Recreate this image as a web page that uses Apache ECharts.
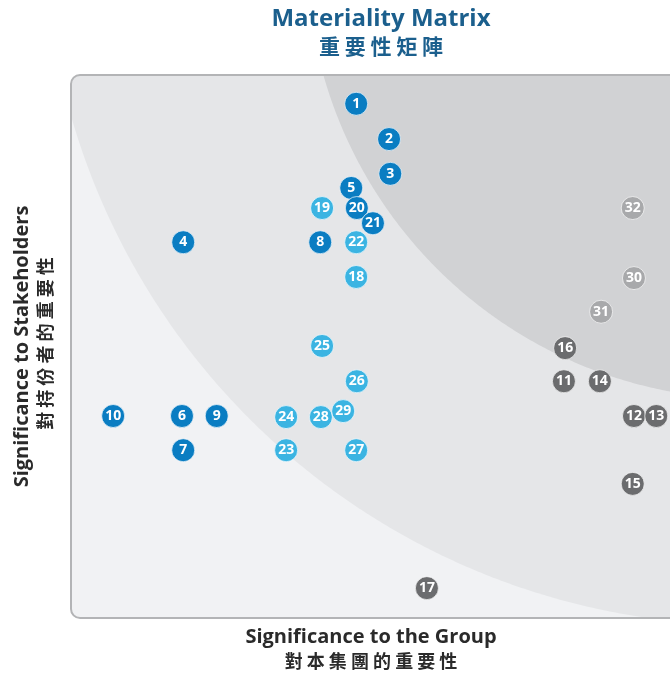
<!DOCTYPE html>
<html><head><meta charset="utf-8">
<script src="https://cdn.jsdelivr.net/npm/echarts@6/dist/echarts.min.js"></script>
<style>html,body{margin:0;padding:0;background:#fff}#c{width:670px;height:674px}</style>
</head><body><div id="c"></div>
<script>
// ---- data ----
const itemIds = [1,2,3,4,5,6,7,8,9,10,11,12,13,14,15,16,17,18,19,20,21,22,23,24,25,26,27,28,29,30,31,32];
const groupSignificance = [46.0,51.3,51.5,18.1,45.2,17.9,18.1,40.2,23.5,6.8,79.5,90.8,94.4,85.3,90.6,79.7,57.4,46.0,40.5,46.1,48.7,46.0,34.7,34.7,40.5,46.1,46.0,40.3,43.9,90.8,85.5,90.6];
const stakeholderSignificance = [94.7,88.2,81.8,69.2,79.2,37.2,30.9,69.2,37.2,37.2,43.6,37.2,37.2,43.6,24.7,49.7,5.5,62.8,75.5,75.5,72.7,69.2,30.9,37.0,50.1,43.6,30.9,37.0,38.1,62.6,56.4,75.5];
const itemCategory = [0,0,0,0,0,0,0,0,0,0,2,2,2,2,2,2,2,1,1,0,0,1,1,1,1,1,1,1,1,3,3,3];
const categoryNames = ['Group A','Group B','Group C','Group D'];
const categoryColors = ['#0a7dc2','#3bb4e2','#6b6c6e','#a8a9ab'];
const titleLines = ['Materiality Matrix','重 要 性 矩 陣'];
const xTitleLines = ['Significance to the Group','對 本 集 團 的 重 要 性'];
const yTitleLines = ['Significance to Stakeholders','對 持 份 者 的 重 要 性'];
// decorative zone circles (centre in data units, radius in x-units)
const zoneCircles = [
  {cx:109.0, cy:128.2, r:113.4, color:'#e5e6e8'},
  {cx:109.8, cy:122.3, r:71.8,  color:'#d1d2d4'}
];

const XMIN=0, XMAX=100, YMIN=0, YMAX=100;
const chart = echarts.init(document.getElementById('c'));

const series = categoryNames.map((name,ci)=>({
  type:'scatter', name, symbol:'circle', symbolSize:23, z:10,
  itemStyle:{color:categoryColors[ci], borderColor:'rgba(255,255,255,0.85)', borderWidth:0.8, opacity:1},
  label:{show:true, position:'inside', formatter:p=>String(p.value[2]), color:'#fff',
         fontFamily:'Open Sans', fontWeight:700, fontSize:14},
  emphasis:{disabled:true}, silent:true,
  data: itemIds.map((id,i)=> itemCategory[i]===ci ? [groupSignificance[i], stakeholderSignificance[i], id] : null).filter(Boolean)
}));

chart.setOption({
  animation:false,
  grid:{left:71, top:75, width:620, height:543, outerBoundsMode:'none', containLabel:false},
  xAxis:{type:'value', min:XMIN, max:XMAX, show:false},
  yAxis:{type:'value', min:YMIN, max:YMAX, show:false},
  series
});

const p0 = chart.convertToPixel({gridIndex:0},[XMIN,YMAX]);
const p1 = chart.convertToPixel({gridIndex:0},[XMAX,YMIN]);
const rect = {x0:p0[0], y0:p0[1], x1:p1[0]+40, y1:p1[1]};
const CR = 9;
const pxPerX = (p1[0]-p0[0])/(XMAX-XMIN);

function clampRounded(x,y){
  x = Math.min(Math.max(x,rect.x0),rect.x1);
  y = Math.min(Math.max(y,rect.y0),rect.y1);
  const corners = [[rect.x0+CR, rect.y0+CR, x<rect.x0+CR && y<rect.y0+CR],
                   [rect.x0+CR, rect.y1-CR, x<rect.x0+CR && y>rect.y1-CR]];
  for (const [ccx,ccy,inZone] of corners){
    if (inZone){
      const dx=x-ccx, dy=y-ccy, d=Math.hypot(dx,dy);
      if (d>CR){ x=ccx+dx/d*CR; y=ccy+dy/d*CR; }
    }
  }
  return [x,y];
}
function zonePolygon(c){
  const ctr = chart.convertToPixel({gridIndex:0},[c.cx,c.cy]);
  const r = c.r*pxPerX;
  const pts=[];
  for(let k=0;k<1440;k++){
    const a=k/1440*2*Math.PI;
    pts.push(clampRounded(ctr[0]+r*Math.cos(a), ctr[1]+r*Math.sin(a)));
  }
  return pts;
}

const W = rect.x1-rect.x0, H = rect.y1-rect.y0;
const cx = (p0[0]+p1[0])/2, cyMid=(p0[1]+p1[1])/2;
const latin = 'Open Sans', cjk = '"Noto Sans CJK TC"';
const T = (x,y,text,font,fill,rot)=>({type:'text', x, y, rotation:rot||0, silent:true,
  style:{text, font, fill, align:'center', verticalAlign:'middle', textAlign:'center', textVerticalAlign:'middle'}});
const graphics = [
  {type:'rect', z:-5, silent:true, shape:{x:rect.x0,y:rect.y0,width:W,height:H,r:[CR,0,0,CR]}, style:{fill:'#f1f2f4', stroke:null}},
  ...zoneCircles.map((c,i)=>({type:'polygon', z:-4+i, silent:true, shape:{points:zonePolygon(c)}, style:{fill:c.color, stroke:null}})),
  {type:'rect', z:-1, silent:true, shape:{x:rect.x0,y:rect.y0,width:W,height:H,r:[CR,0,0,CR]}, style:{fill:null, stroke:'#b3b4b6', lineWidth:2}},
  T(cx, 19, titleLines[0], `bold 24px ${latin}`, '#1b5f8d'),
  T(cx, 46, titleLines[1], `bold 21px ${cjk}`, '#1b5f8d'),
  T(cx-10, 637, xTitleLines[0], `bold 20px ${latin}`, '#2a2a2a'),
  T(cx-10, 661, xTitleLines[1], `bold 18px ${cjk}`, '#2a2a2a'),
  T(22, cyMid, yTitleLines[0], `bold 20px ${latin}`, '#2a2a2a', Math.PI/2),
  T(45, cyMid-3, yTitleLines[1], `bold 18px ${cjk}`, '#2a2a2a', Math.PI/2)
];
chart.setOption({graphic:{elements:graphics}});
</script></body></html>
